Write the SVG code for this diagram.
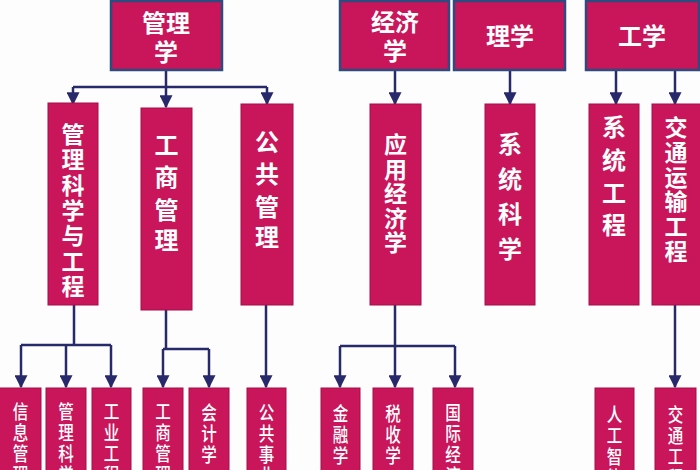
<svg xmlns="http://www.w3.org/2000/svg" width="700" height="470" viewBox="0 0 700 470">
<style>
.top{fill:#c9155a;stroke:#2d4b7e;stroke-width:2.5}
.mid{fill:#c9155a;stroke:#a30f48;stroke-width:1}
.bot{fill:#c9155a;stroke:#a30f48;stroke-width:1}
.t{fill:#ffffff;font-family:"Noto Sans CJK SC","Noto Sans",sans-serif;font-weight:700;text-anchor:middle}
.t1{font-size:24px}
.t2{font-size:24px}
.t2s{font-size:23px}
.t3{font-size:19px;font-weight:500}
.c{fill:none;stroke:#27296b;stroke-width:2.5}
.a{fill:none;stroke:#27296b;stroke-width:2.5;marker-end:url(#arr)}
</style>
<defs>
<marker id="arr" viewBox="0 0 10 10" refX="9" refY="5" markerWidth="13" markerHeight="13" markerUnits="userSpaceOnUse" orient="auto">
<path d="M0,0 L10,5 L0,10 z" fill="#27296b"/>
</marker>
</defs>
<rect width="700" height="470" fill="#fdfdfd"/>
<g id="connectors">
<path class="c" d="M166,0 V2 M397,0 V2 M509,0 V2 M643,0 V2"/>
<path class="c" d="M166,70 V87 M73,87 H267"/>
<path class="a" d="M73,87 V104"/>
<path class="a" d="M166,87 V107"/>
<path class="a" d="M267,87 V104"/>
<path class="a" d="M395,70 V104"/>
<path class="a" d="M510,70 V104"/>
<path class="a" d="M616,70 V104"/>
<path class="a" d="M675,70 V104"/>
<path class="c" d="M74,305 V345 M21,345 H111"/>
<path class="a" d="M21,345 V387"/>
<path class="a" d="M66,345 V387"/>
<path class="a" d="M111,345 V387"/>
<path class="c" d="M166,310 V349 M163,349 H209"/>
<path class="a" d="M163,349 V387"/>
<path class="a" d="M209,349 V387"/>
<path class="a" d="M266,305 V387"/>
<path class="c" d="M395,305 V346 M340,346 H455"/>
<path class="a" d="M340,346 V387"/>
<path class="a" d="M395,346 V387"/>
<path class="a" d="M455,346 V387"/>
<path class="a" d="M675,305 V387"/>
</g>
<g id="n-guanlixue"><rect class="top" x="111" y="1" width="111" height="69"/>
<text class="t t1" x="166" y="32">管理</text><text class="t t1" x="166" y="61">学</text></g>
<g id="n-jingjixue"><rect class="top" x="340" y="1" width="109" height="69"/>
<text class="t t1" x="395" y="31">经济</text><text class="t t1" x="395" y="60">学</text></g>
<g id="n-lixue"><rect class="top" x="454" y="1" width="111" height="69"/>
<text class="t t1" x="510" y="45">理学</text></g>
<g id="n-gongxue"><rect class="top" x="586" y="1" width="113" height="69"/>
<text class="t t1" x="642" y="45">工学</text></g>

<g id="n-glkxygc"><rect class="mid" x="48" y="103" width="50" height="202"/>
<text class="t t2s"><tspan x="73" y="143">管</tspan><tspan x="73" y="168">理</tspan><tspan x="73" y="194">科</tspan><tspan x="73" y="219">学</tspan><tspan x="73" y="244">与</tspan><tspan x="73" y="270">工</tspan><tspan x="73" y="295">程</tspan></text></g>
<g id="n-gsgl"><rect class="mid" x="141" y="108" width="51" height="202"/>
<text class="t t2"><tspan x="166.5" y="154">工</tspan><tspan x="166.5" y="186">商</tspan><tspan x="166.5" y="219">管</tspan><tspan x="166.5" y="249">理</tspan></text></g>
<g id="n-gggl"><rect class="mid" x="241" y="104" width="52" height="201"/>
<text class="t t2"><tspan x="267" y="151">公</tspan><tspan x="267" y="183">共</tspan><tspan x="267" y="216">管</tspan><tspan x="267" y="246">理</tspan></text></g>
<g id="n-yyjjx"><rect class="mid" x="370" y="104" width="51" height="201"/>
<text class="t t2s"><tspan x="395.5" y="153">应</tspan><tspan x="395.5" y="177.5">用</tspan><tspan x="395.5" y="202">经</tspan><tspan x="395.5" y="226.5">济</tspan><tspan x="395.5" y="251">学</tspan></text></g>
<g id="n-xtkx"><rect class="mid" x="485" y="104" width="50" height="201"/>
<text class="t t2"><tspan x="510" y="153">系</tspan><tspan x="510" y="188">统</tspan><tspan x="510" y="223">科</tspan><tspan x="510" y="258">学</tspan></text></g>
<g id="n-xtgc"><rect class="mid" x="589" y="104" width="50" height="201"/>
<text class="t t2"><tspan x="614" y="136">系</tspan><tspan x="614" y="169">统</tspan><tspan x="614" y="202">工</tspan><tspan x="614" y="234">程</tspan></text></g>
<g id="n-jtysgc"><rect class="mid" x="652" y="104" width="50" height="201"/>
<text class="t t2s"><tspan x="676" y="136">交</tspan><tspan x="676" y="161">通</tspan><tspan x="676" y="186">运</tspan><tspan x="676" y="210">输</tspan><tspan x="676" y="235">工</tspan><tspan x="676" y="260">程</tspan></text></g>

<g id="n-xxgl"><rect class="bot" x="-1" y="388" width="42" height="84"/>
<g transform="translate(20.5,0) scale(0.82,1)"><text class="t t3"><tspan x="0" y="419">信</tspan><tspan x="0" y="440">息</tspan><tspan x="0" y="461">管</tspan><tspan x="0" y="482">理</tspan></text></g></g>
<g id="n-glkx"><rect class="bot" x="46" y="388" width="40" height="84"/>
<g transform="translate(66,0) scale(0.82,1)"><text class="t t3"><tspan x="0" y="419">管</tspan><tspan x="0" y="440">理</tspan><tspan x="0" y="461">科</tspan><tspan x="0" y="482">学</tspan></text></g></g>
<g id="n-gygc"><rect class="bot" x="92" y="388" width="39" height="84"/>
<g transform="translate(111.5,0) scale(0.82,1)"><text class="t t3"><tspan x="0" y="419">工</tspan><tspan x="0" y="440">业</tspan><tspan x="0" y="461">工</tspan><tspan x="0" y="482">程</tspan></text></g></g>
<g id="n-gsgl2"><rect class="bot" x="143" y="388" width="40" height="84"/>
<g transform="translate(163,0) scale(0.82,1)"><text class="t t3"><tspan x="0" y="419">工</tspan><tspan x="0" y="440">商</tspan><tspan x="0" y="461">管</tspan><tspan x="0" y="482">理</tspan></text></g></g>
<g id="n-kjx"><rect class="bot" x="189" y="388" width="40" height="84"/>
<g transform="translate(209,0) scale(0.82,1)"><text class="t t3"><tspan x="0" y="420">会</tspan><tspan x="0" y="441">计</tspan><tspan x="0" y="462">学</tspan></text></g></g>
<g id="n-ggsy"><rect class="bot" x="247" y="388" width="39" height="84"/>
<g transform="translate(266.5,0) scale(0.82,1)"><text class="t t3"><tspan x="0" y="420">公</tspan><tspan x="0" y="441">共</tspan><tspan x="0" y="462">事</tspan><tspan x="0" y="483">业</tspan></text></g></g>
<g id="n-jrx"><rect class="bot" x="321" y="388" width="39" height="84"/>
<g transform="translate(340.5,0) scale(0.82,1)"><text class="t t3"><tspan x="0" y="421">金</tspan><tspan x="0" y="442">融</tspan><tspan x="0" y="463">学</tspan></text></g></g>
<g id="n-ssx"><rect class="bot" x="373" y="388" width="40" height="84"/>
<g transform="translate(393,0) scale(0.82,1)"><text class="t t3"><tspan x="0" y="421">税</tspan><tspan x="0" y="442">收</tspan><tspan x="0" y="463">学</tspan></text></g></g>
<g id="n-gjjj"><rect class="bot" x="433" y="388" width="40" height="84"/>
<g transform="translate(453,0) scale(0.82,1)"><text class="t t3"><tspan x="0" y="420">国</tspan><tspan x="0" y="441">际</tspan><tspan x="0" y="462">经</tspan><tspan x="0" y="483">济</tspan></text></g></g>
<g id="n-rgzn"><rect class="bot" x="595" y="388" width="39" height="84"/>
<g transform="translate(614.5,0) scale(0.82,1)"><text class="t t3"><tspan x="0" y="422">人</tspan><tspan x="0" y="443">工</tspan><tspan x="0" y="464">智</tspan><tspan x="0" y="485">能</tspan></text></g></g>
<g id="n-jtgc"><rect class="bot" x="655" y="388" width="41" height="84"/>
<g transform="translate(675.5,0) scale(0.82,1)"><text class="t t3"><tspan x="0" y="422">交</tspan><tspan x="0" y="443">通</tspan><tspan x="0" y="464">工</tspan><tspan x="0" y="485">程</tspan></text></g></g>
</svg>
